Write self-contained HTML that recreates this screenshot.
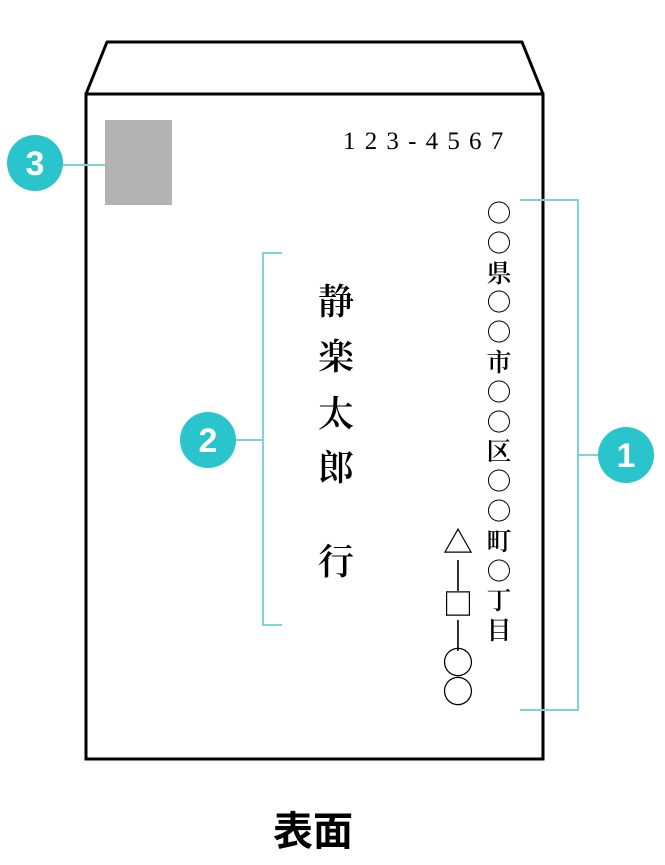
<!DOCTYPE html>
<html><head><meta charset="utf-8"><style>
body{margin:0;width:665px;height:865px;background:#fff;position:relative;overflow:hidden;font-family:"Noto Serif CJK SC","Noto Serif CJK JP",serif}
.c{position:absolute;transform:translate(-50%,-50%);line-height:1;white-space:nowrap}
</style></head><body>
<svg width="665" height="865" style="position:absolute;left:0;top:0">
<polygon points="86,94 107,42 522,42 543,94" fill="#fff" stroke="#000" stroke-width="3" stroke-linejoin="round"/>
<rect x="86" y="94" width="457" height="665" fill="#fff" stroke="#000" stroke-width="3"/>
<rect x="105" y="120" width="67" height="85" fill="#b3b3b3"/>
<g stroke="#7fd3d8" stroke-width="2" fill="none">
<line x1="60" y1="165" x2="105" y2="165"/>
<polyline points="282,253 263,253 263,625 282,625"/>
<line x1="230" y1="440" x2="263" y2="440"/>
<polyline points="520,200 578,200 578,710 520,710"/>
<line x1="578" y1="455" x2="600" y2="455"/>
</g>
<g fill="#29c4cc"><circle cx="35" cy="163" r="28"/><circle cx="208" cy="440" r="28"/><circle cx="626" cy="455" r="28"/></g>
<g fill="#fff" font-family="Liberation Sans,sans-serif" font-size="34" font-weight="bold" text-anchor="middle">
<text x="35" y="175">3</text><text x="208" y="452">2</text><text x="626" y="467">1</text></g>
</svg>
<div style="position:absolute;left:343px;top:128px;font-size:25px;line-height:28px;letter-spacing:9.2px;font-family:'Liberation Serif',serif;white-space:nowrap">123-4567</div>
<div class="c" style="left:336px;top:300px;font-size:36px;font-weight:600">静</div>
<div class="c" style="left:336px;top:355px;font-size:36px;font-weight:600">楽</div>
<div class="c" style="left:336px;top:412px;font-size:36px;font-weight:600">太</div>
<div class="c" style="left:336px;top:466px;font-size:36px;font-weight:600">郎</div>
<div class="c" style="left:336px;top:560px;font-size:36px;font-weight:600">行</div>
<div style="position:absolute;left:484px;top:198px;width:30px;font-size:25px;line-height:29.8px;text-align:center;font-weight:600">○<br>○<br>県<br>○<br>○<br>市<br>○<br>○<br>区<br>○<br>○<br>町<br>○<br>丁<br>目</div>
<div class="c" style="left:458px;top:540px;font-size:30px;font-weight:600">△</div>
<div class="c" style="left:458px;top:572px;font-size:28px;font-weight:600">|</div>
<div class="c" style="left:458px;top:602px;font-size:30px;font-weight:600">□</div>
<div class="c" style="left:458px;top:632px;font-size:28px;font-weight:600">|</div>
<div class="c" style="left:458px;top:661px;font-size:32px;font-weight:600">○</div>
<div class="c" style="left:458px;top:690px;font-size:32px;font-weight:600">○</div>
<div class="c" style="left:313px;top:828px;font-size:40px;font-weight:bold;font-family:'Noto Sans CJK JP',sans-serif">表面</div>
</body></html>
